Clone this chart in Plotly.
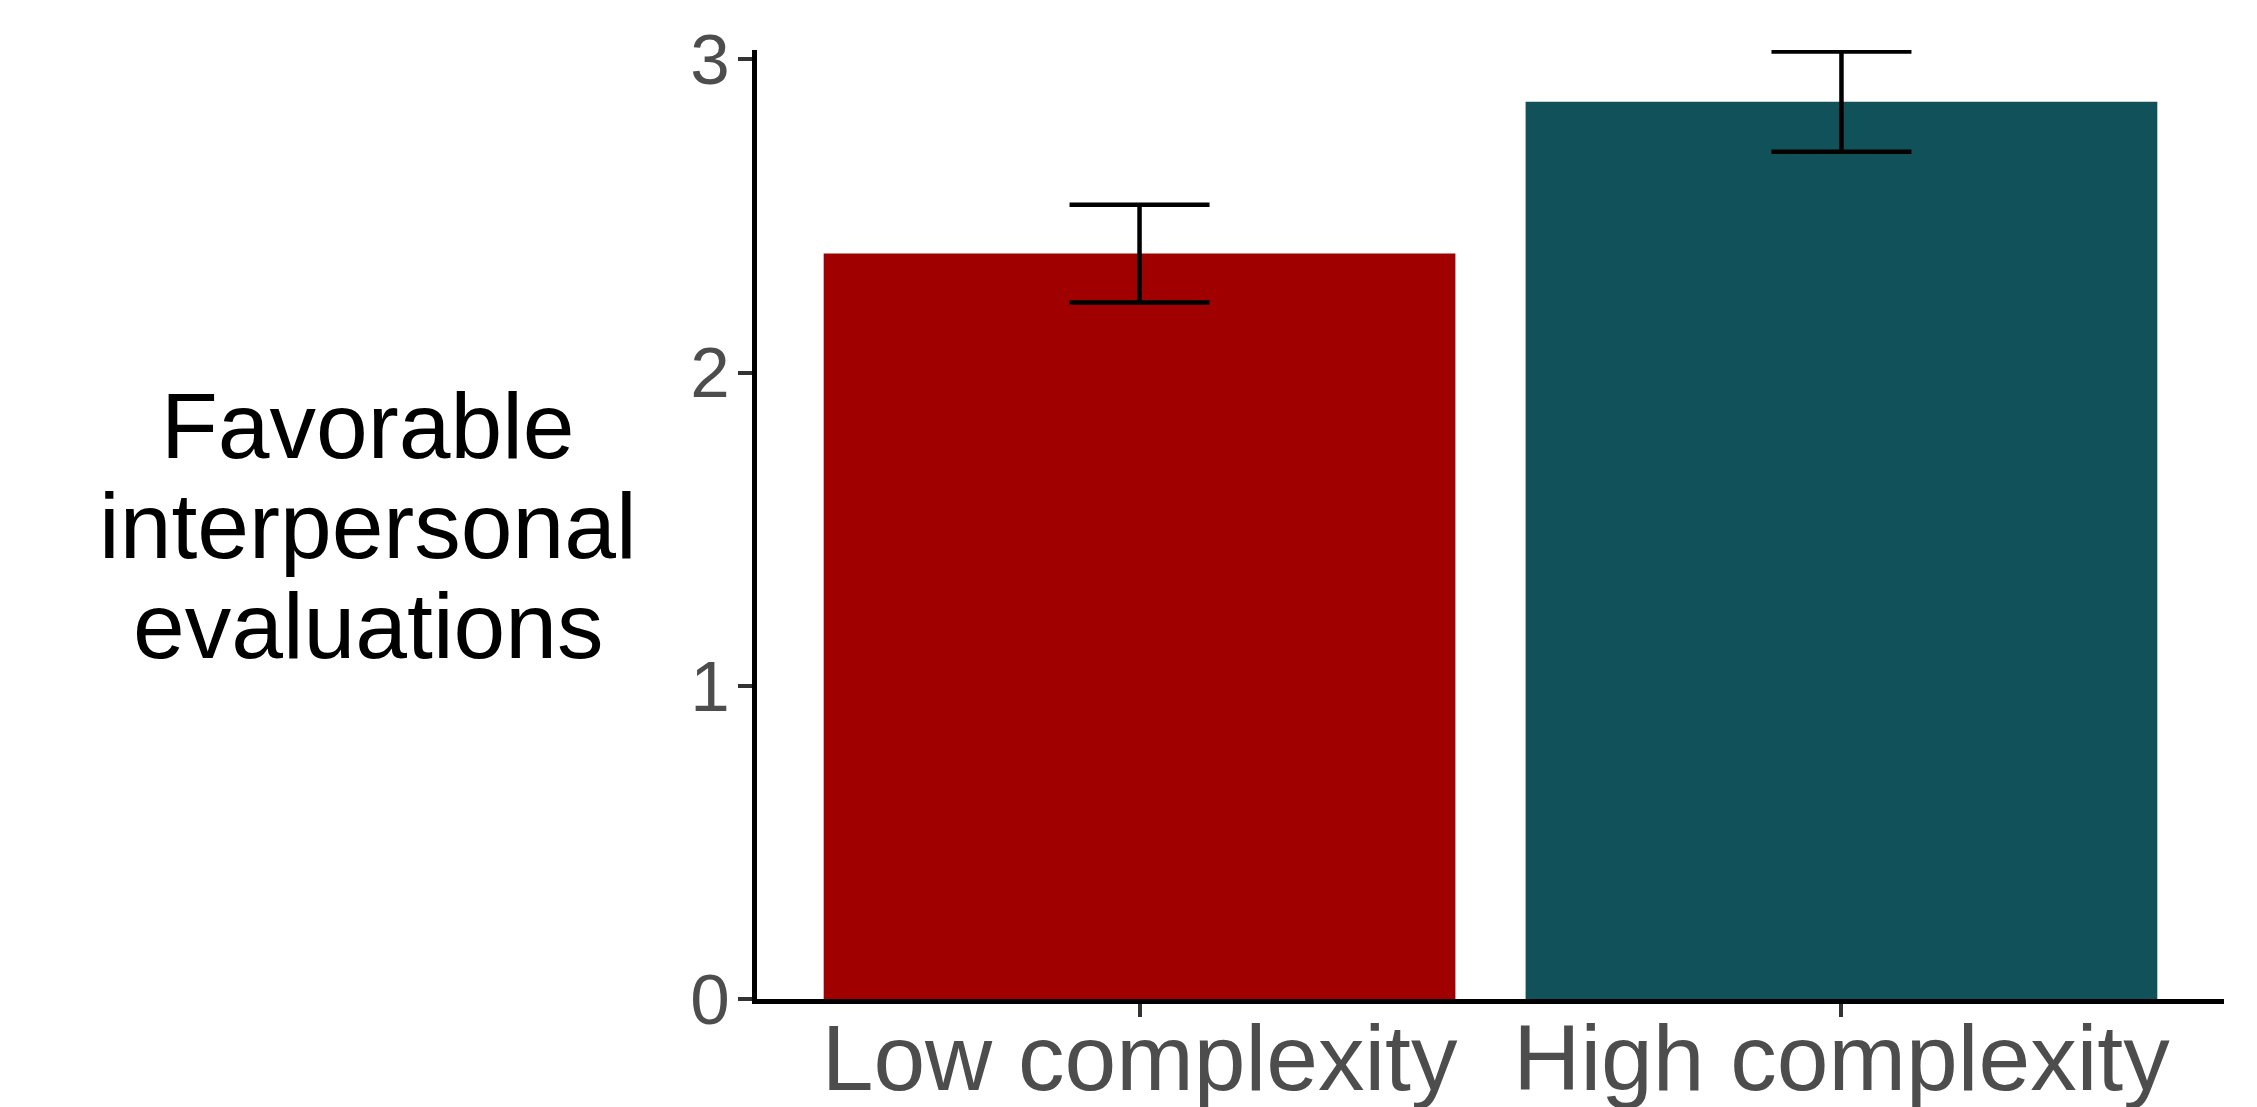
import plotly.graph_objects as go

# Mean favorable interpersonal evaluations by complexity condition
conditions = ["Low complexity", "High complexity"]
means = [2.38, 2.865]
errors = [0.156, 0.16]
bar_colors = ["#A00000", "#11525A"]

y_ticks = [0, 1, 2, 3]
y_title_lines = ["Favorable", "interpersonal", "evaluations"]

W, H = 2257, 1107
M_L, M_R, M_T, M_B = 757, 33, 50, 108
FONT = "Liberation Sans, Arial, sans-serif"

fig = go.Figure()
fig.add_trace(go.Bar(
    x=conditions,
    y=means,
    marker=dict(color=bar_colors, line=dict(width=0)),
    error_y=dict(type="data", array=errors, visible=True,
                 color="black", thickness=4.5, width=70),
    width=0.9,
    showlegend=False,
))

# Three-line horizontal y-axis title, placed line by line
plot_h = H - M_T - M_B
line_centers_px = [426, 526, 626]
for txt, py in zip(y_title_lines, line_centers_px):
    fig.add_annotation(
        text=txt, xref="paper", yref="paper",
        x=(368 - M_L) / (W - M_L - M_R), y=(H - M_B - py) / plot_h,
        xanchor="center", yanchor="middle", showarrow=False,
        font=dict(family=FONT, size=93, color="black"),
    )

fig.update_layout(
    width=W, height=H, autosize=False,
    margin=dict(l=M_L, r=M_R, t=M_T, b=M_B, pad=0, autoexpand=False),
    plot_bgcolor="white", paper_bgcolor="white",
    bargap=0.1,
    font=dict(family=FONT),
)
fig.update_xaxes(
    type="category", range=[-0.545, 1.545],
    showline=True, linecolor="black", linewidth=5,
    ticks="outside", ticklen=13, tickwidth=4, tickcolor="#333333",
    tickfont=dict(family=FONT, size=93, color="#4D4D4D"),
    showgrid=False, zeroline=False, ticklabelstandoff=-39,
    automargin=False,
)
fig.update_yaxes(
    range=[0, 3.03], tickvals=y_ticks,
    showline=True, linecolor="black", linewidth=5,
    ticks="outside", ticklen=14, tickwidth=4, tickcolor="#333333",
    tickfont=dict(family=FONT, size=71, color="#4D4D4D"),
    showgrid=False, zeroline=False, ticklabelstandoff=-6,
    automargin=False,
)

fig.write_html("out.html")
